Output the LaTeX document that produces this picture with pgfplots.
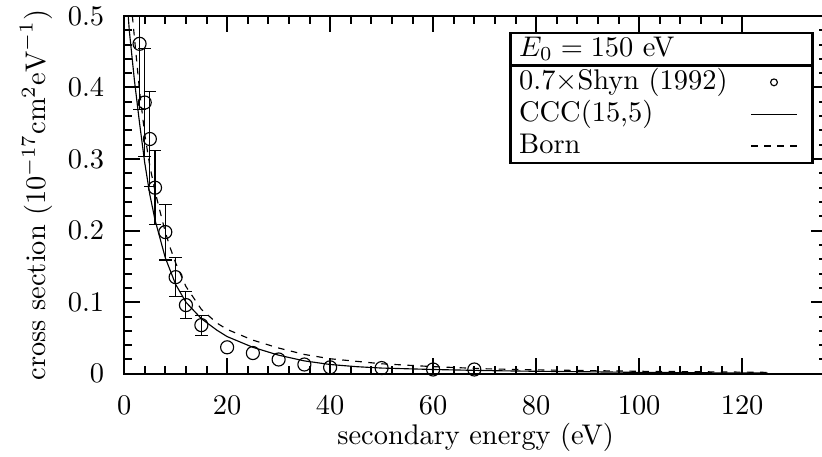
\documentclass[border=0pt]{standalone}
\usepackage{pgfplots}
\pgfplotsset{compat=1.18}
\begin{document}
\begin{tikzpicture}
\begin{axis}[
  name=ax,
  scale only axis,
  width=247.5pt, height=126pt,
  xmin=0, xmax=136.5, ymin=0, ymax=0.5,
  xtick={0,20,...,120}, ytick={0,0.1,0.2,0.3,0.4,0.5},
  minor x tick num=4, minor y tick num=4,
  tick align=inside,
  major tick length=5.6pt, minor tick length=2.8pt,
  axis line style={line width=0.9pt},
  every tick/.style={line width=0.7pt, black},
  yticklabel style={/pgf/number format/fixed},
  yticklabel shift=3.5pt,
  xticklabel shift=4.5pt,
  xlabel={secondary energy (eV)},
  ylabel={cross section ($10^{-17}\mathrm{cm}^2\mathrm{eV}^{-1}$)},
  xlabel style={at={(axis description cs:0.5,-0.198)}, anchor=base},
  ylabel style={at={(axis description cs:-0.1124,0.5)}, anchor=base},
  legend plot pos=right,
  legend cell align=left,
  legend style={name=leg, at={(0.979,0.862)}, anchor=north east, draw=none, fill=none,
    inner xsep=2.8pt, inner ysep=0.8pt, row sep=1.2pt, column sep=0pt,
    nodes={inner sep=0pt, text height=7.5pt, text depth=2.5pt}},
]
% Shyn data x0.7 with error bars
\addplot[forget plot, only marks, mark=o, mark size=2.3pt, line width=0.4pt, black,
  error bars/.cd, y dir=both, y explicit,
  error bar style={line width=0.4pt, black},
  error mark options={rotate=90, mark size=2.2pt, line width=0.4pt, black}]
  table[x=x, y=y, y error=e] {
x y e
3 0.461 0.092
4 0.379 0.076
5 0.328 0.066
6 0.260 0.052
8 0.198 0.039
10 0.135 0.027
12 0.096 0.019
15 0.068 0.014
};
\addplot[forget plot, only marks, mark=o, mark size=2.3pt, line width=0.4pt, black]
  table {
20 0.037
25 0.029
30 0.020
35 0.013
40 0.009
50 0.008
60 0.006
68 0.006
};
% CCC(15,5)
\addplot[forget plot, black, line width=0.4pt] table {
0.8 0.50
1 0.48
1.5 0.445
2 0.41
3 0.35
4 0.295
5 0.25
6 0.215
8 0.162
10 0.125
12 0.100
15 0.077
18 0.061
20 0.052
25 0.037
30 0.026
35 0.018
40 0.013
45 0.010
50 0.008
60 0.006
70 0.0045
80 0.0035
90 0.0028
100 0.002
110 0.0015
125 0.001
};
% Born
\addplot[forget plot, black, line width=0.4pt, dash pattern=on 2.3pt off 2.3pt] table {
1.6 0.50
2 0.47
3 0.395
4 0.335
5 0.29
6 0.255
7 0.226
8 0.198
9 0.175
10 0.155
12 0.122
15 0.090
18 0.071
20 0.062
25 0.047
30 0.036
35 0.027
40 0.021
50 0.014
60 0.010
70 0.007
80 0.0055
90 0.0045
100 0.0035
110 0.003
125 0.002
};
\addlegendimage{legend image code/.code={\draw[black, line width=0.4pt, solid] (8pt,0pt) circle (1.2pt); \path[draw=none] (0pt,0pt) -- (18.5pt,0pt);}}
\addlegendentry{\makebox[81.5pt][l]{0.7$\times$Shyn (1992)}}
\addlegendimage{legend image code/.code={\draw[black, line width=0.4pt, solid] (0pt,0pt) -- (16pt,0pt); \path[draw=none] (0pt,0pt) -- (18.5pt,0pt);}}
\addlegendentry{\makebox[81.5pt][l]{CCC(15,5)}}
\addlegendimage{legend image code/.code={\draw[black, line width=0.4pt, dash pattern=on 2.3pt off 2.3pt] (0pt,0pt) -- (16pt,0pt); \path[draw=none] (0pt,0pt) -- (18.5pt,0pt);}}
\addlegendentry{\makebox[81.5pt][l]{Born}}
\end{axis}
\draw[line width=0.9pt] (leg.south west) rectangle (leg.north east);
\draw[line width=0.9pt] (leg.north west) -- ++(0,11.3pt) -| (leg.north east);
\node[anchor=base west, inner sep=0pt] at ([xshift=2.8pt, yshift=3.2pt]leg.north west) {$E_0 = 150$ eV};
\pgfresetboundingbox
\useasboundingbox ([xshift=-43.7pt, yshift=-29.2pt]ax.south west) rectangle ([xshift=-1.8pt, yshift=5.6pt]ax.north east);
\end{tikzpicture}
\end{document}
